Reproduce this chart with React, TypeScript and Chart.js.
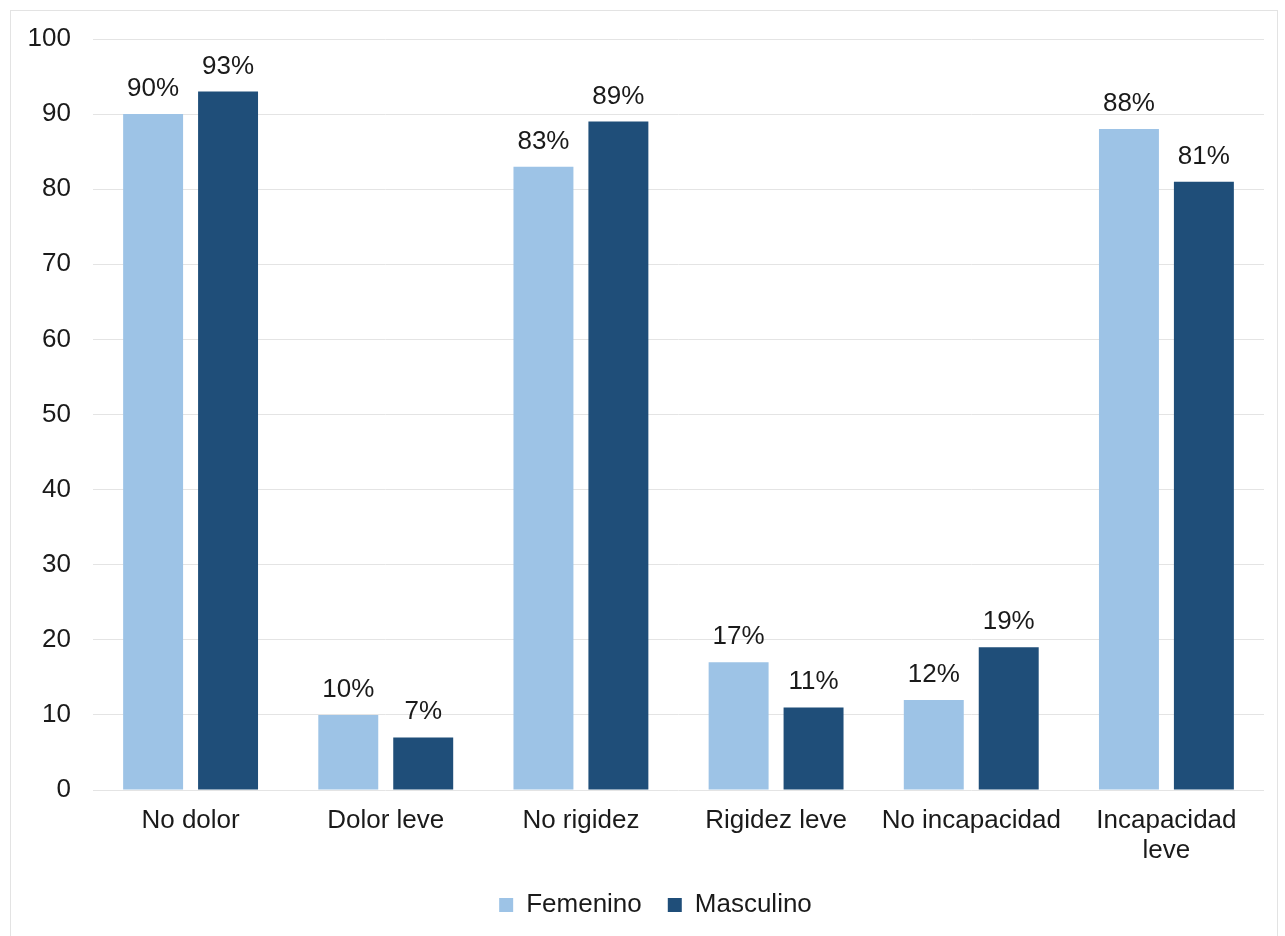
import React, { useEffect, useRef } from "react";
import { Chart, registerables } from "chart.js";

Chart.register(...registerables);

const categories: (string | string[])[] = [
  "No dolor",
  "Dolor leve",
  "No rigidez",
  "Rigidez leve",
  "No incapacidad",
  ["Incapacidad", "leve"],
];
const femenino = [90, 10, 83, 17, 12, 88];
const masculino = [93, 7, 89, 11, 19, 81];
const seriesNames = ["Femenino", "Masculino"];
const yTicks = [0, 10, 20, 30, 40, 50, 60, 70, 80, 90, 100];

const FONT = "'Liberation Sans', Arial, sans-serif";
const TEXT = "#1a1a1a";
const FS = 26;

const labelPlugin = {
  id: "barLabels",
  afterDatasetsDraw(chart: any) {
    const ctx = chart.ctx;
    ctx.save();
    ctx.font = `${FS}px ${FONT}`;
    ctx.fillStyle = TEXT;
    ctx.textAlign = "center";
    ctx.textBaseline = "alphabetic";
    chart.data.datasets.forEach((ds: any, i: number) => {
      const meta = chart.getDatasetMeta(i);
      meta.data.forEach((bar: any, j: number) => {
        ctx.fillText(`${ds.data[j]}%`, bar.x, bar.y - 18);
      });
    });
    ctx.restore();
  },
};

const borderPlugin = {
  id: "outerBorder",
  beforeDraw(chart: any) {
    const lg = chart.legend;
    if (lg && !lg._shifted) {
      lg.left += 22;
      lg._shifted = true;
    }
    const ctx = chart.ctx;
    ctx.save();
    ctx.fillStyle = "#ffffff";
    ctx.fillRect(0, 0, chart.width, chart.height);
    ctx.strokeStyle = "#e3e3e3";
    ctx.lineWidth = 1;
    ctx.strokeRect(10.5, 10.5, chart.width - 18, chart.height - 10);
    ctx.restore();
  },
};

export default function App() {
  const ref = useRef<HTMLCanvasElement>(null);
  useEffect(() => {
    document.body.style.margin = "0";
    const chart = new Chart(ref.current!, {
      type: "bar",
      data: {
        labels: categories,
        datasets: [
          {
            label: seriesNames[0],
            data: femenino,
            backgroundColor: "#9DC3E6",
            categoryPercentage: 0.768,
            barPercentage: 0.8,
          },
          {
            label: seriesNames[1],
            data: masculino,
            backgroundColor: "#1F4E79",
            categoryPercentage: 0.768,
            barPercentage: 0.8,
          },
        ],
      },
      options: {
        responsive: false,
        animation: false,
        layout: { padding: { top: 39, left: 25, right: 21, bottom: 8 } },
        plugins: {
          tooltip: { enabled: false },
          legend: {
            position: "bottom",
            labels: {
              font: { family: FONT, size: FS },
              color: TEXT,
              boxWidth: 14,
              boxHeight: 14,
              padding: 26,
            },
          },
        },
        scales: {
          x: {
            grid: { display: false, drawTicks: false },
            border: { display: false },
            ticks: {
              font: { family: FONT, size: FS, lineHeight: 1.15 },
              color: TEXT,
              padding: 16,
              maxRotation: 0,
              autoSkip: false,
            },
            afterFit(scale: any) {
              scale.height = 76;
            },
          },
          y: {
            min: 0,
            max: 100,
            afterBuildTicks(scale: any) {
              scale.ticks = yTicks.map((v) => ({ value: v }));
            },
            grid: { color: "#e4e4e4", drawTicks: false, lineWidth: 1 },
            border: { display: false },
            ticks: {
              font: { family: FONT, size: FS },
              color: TEXT,
              padding: 22,
            },
            afterFit(scale: any) {
              scale.width = 68;
            },
          },
        },
      },
      plugins: [borderPlugin, labelPlugin],
    } as any);
    return () => chart.destroy();
  }, []);
  return <canvas ref={ref} width={1285} height={936} style={{ display: "block" }} />;
}
